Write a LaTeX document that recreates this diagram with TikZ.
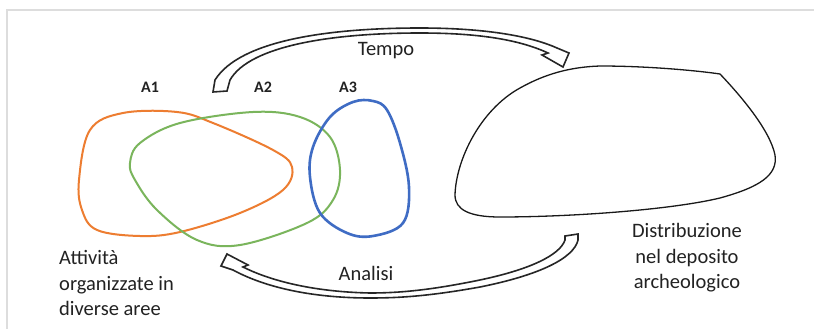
\documentclass[tikz,border=0pt]{standalone}
\usepackage{fontspec}
\setmainfont{Carlito}
\definecolor{aorange}{HTML}{ED7D31}
\definecolor{agreen}{HTML}{7AB55C}
\definecolor{ablue}{HTML}{3F6CC4}
\definecolor{txt}{HTML}{222222}
\definecolor{frame}{HTML}{DDDDDD}
\tikzset{
  lbl/.style={inner sep=0pt, text=txt, font=\fontsize{20.5}{25.5}\selectfont},
  albl/.style={inner sep=0pt, text=txt, font=\fontsize{16}{19}\selectfont\bfseries},
  blockarrow/.style={draw=black!85, line width=1.6pt, fill=white, line join=miter},
  area/.style={line width=2pt},
}
\begin{document}
\begin{tikzpicture}[x=1pt,y=-1pt]
\useasboundingbox (0,0) rectangle (814,329);
\fill[white] (0,0) rectangle (814,329);
% light frame
\draw[frame, line width=2pt] (6.5,329) -- (6.5,10) -- (814,10);

% areas
\draw[area, aorange] plot[smooth cycle, tension=0.6] coordinates {
 (79,180) (90,130) (123,113) (177,112) (213,123) (273,150) (292,167)
 (283,190) (240,213) (180,232) (140,236) (97,230) (82,210)};
\draw[area, agreen] plot[smooth cycle, tension=0.6] coordinates {
 (130,163) (140,143) (180,123) (253,112) (300,117) (330,137) (340,170)
 (333,200) (307,223) (240,245) (197,240) (157,210) (135,180)};
\draw[ablue, line width=2.6pt] plot[smooth cycle, tension=0.6] coordinates {
 (373,101) (387,110) (400,143) (409,187) (403,223) (373,236) (347,233)
 (320,213) (310,177) (313,147) (330,117) (353,102)};

% deposit shape
\draw[black!90, line width=1.3pt] (720,74) .. controls (740,95) and (770,130) .. (775,155)
  .. controls (778,175) and (760,187) .. (720,198)
  .. controls (670,210) and (570,217) .. (500,217)
  .. controls (470,217) and (455,210) .. (455,195)
  .. controls (456,160) and (480,110) .. (520,88)
  .. controls (545,74) and (570,67) .. (600,66)
  .. controls (650,66) and (700,71) .. cycle;

% Tempo arrow
\draw[blockarrow] (213,92) -- (215,80)
  .. controls (240,40) and (330,28) .. (420,28)
  .. controls (480,28) and (528,35) .. (557,48)
  -- (569,53) -- (563,67) -- (542,55) -- (548,53)
  .. controls (520,40) and (480,33) .. (420,33)
  .. controls (335,33) and (250,45) .. (230,80)
  -- (227,91) -- cycle;

% Analisi arrow
\draw[blockarrow] (565,236) -- (578,234) -- (578,240)
  .. controls (574,258) and (540,275) .. (480,287)
  .. controls (430,296) and (400,298) .. (370,298)
  .. controls (320,298) and (270,290) .. (233,270)
  -- (221,266) -- (227,254) -- (248,265) -- (243,267)
  .. controls (275,283) and (320,292) .. (370,293)
  .. controls (400,293) and (430,290) .. (475,281)
  .. controls (530,270) and (560,255) .. (565,240) -- cycle;

% labels
\node[lbl] (tempo) at (386,51) {Tempo};
\node[lbl] (analisi) at (366,273) {Analisi};
\node[albl] (a1) at (150,87) {A1};
\node[albl] (a2) at (263,87) {A2};
\node[albl] (a3) at (348,87) {A3};
\node[lbl, align=center] (distr) at (687,258) {Distribuzione\\nel deposito\\archeologico};
\node[lbl, align=left, anchor=west] (att) at (59,283) {Attività\\organizzate in\\diverse aree};
\end{tikzpicture}
\end{document}
